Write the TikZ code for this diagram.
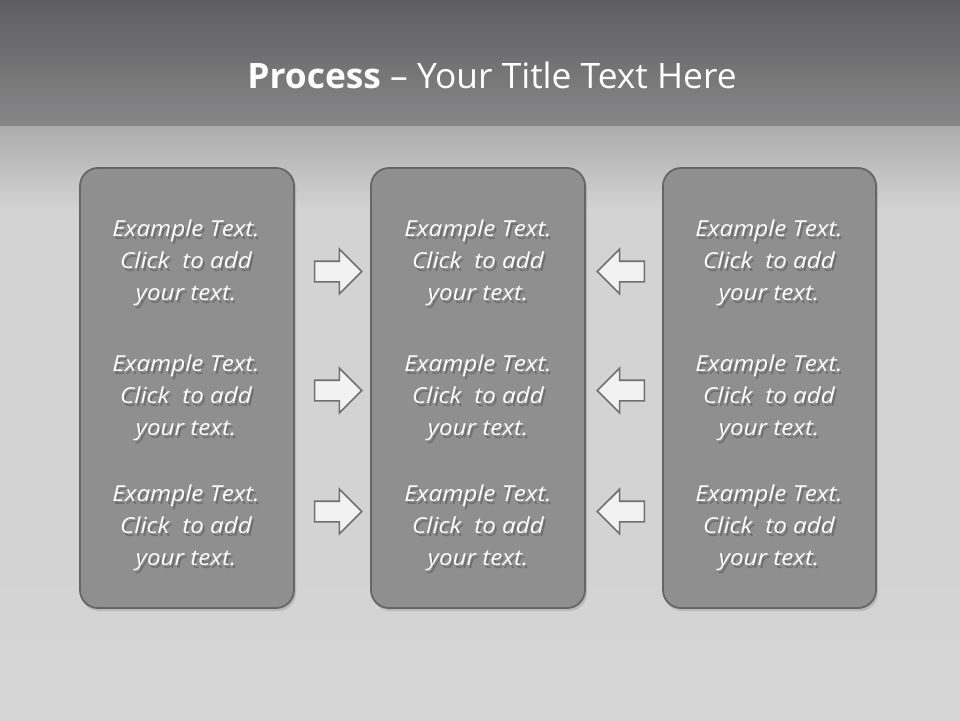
\documentclass[tikz,border=0pt]{standalone}
\usepackage{fontspec}
\setmainfont{Open Sans}
\newfontfamily\titlefont[FakeStretch=1.01]{Open Sans}
\newfontfamily\bodyfont[FakeStretch=1.1]{Open Sans}
\usetikzlibrary{shapes.arrows}
\definecolor{hdtop}{HTML}{5E5E60}
\definecolor{hdbot}{HTML}{878788}
\definecolor{bgtop}{HTML}{ABABAC}
\definecolor{bgmid}{HTML}{D3D3D4}
\definecolor{bgbot}{HTML}{D6D6D7}
\definecolor{boxfill}{HTML}{8F8F90}
\definecolor{boxline}{HTML}{666667}
\definecolor{arrfill}{HTML}{F2F2F2}
\definecolor{arrline}{HTML}{707071}
\definecolor{shadowc}{HTML}{333333}
\tikzset{
  panel/.style={draw=boxline, line width=1.8pt, fill=boxfill, rounded corners=18pt},
  btext/.style={text=white, align=center, font=\bodyfont\fontsize{22}{32}\selectfont\itshape, inner sep=0pt},
  bshadow/.style={text=shadowc, text opacity=0.35, align=center, font=\bodyfont\fontsize{22}{32}\selectfont\itshape, inner sep=0pt},
  blockarrow/.style={single arrow, draw=arrline, line width=1.6pt, fill=arrfill,
    minimum height=47pt, inner xsep=0pt, inner ysep=9.5pt, text height=0pt, text depth=0pt,
    single arrow head extend=12pt, single arrow head indent=0pt, single arrow tip angle=90}
}
\begin{document}
\begin{tikzpicture}[x=1pt,y=-1pt]
\useasboundingbox (0,0) rectangle (960,720);
% background
\shade[top color=bgtop, bottom color=bgmid] (0,124) rectangle (960,210);
\fill[bgmid] (0,210) rectangle (960,560);
\shade[top color=bgmid, bottom color=bgbot] (0,560) rectangle (960,720);
\shade[top color=hdtop, bottom color=hdbot] (0,0) rectangle (960,125);
% title
\node[text=white, font=\titlefont\fontsize{35}{40}\selectfont, inner sep=0pt] (title) at (492,75)
  {\textbf{Process} \textendash{} Your Title Text Here};
% panel shadows
\fill[black, opacity=0.12, rounded corners=18pt] (81,170) rectangle (296,611);
\fill[black, opacity=0.12, rounded corners=18pt] (372,170) rectangle (587,611);
\fill[black, opacity=0.12, rounded corners=18pt] (664,170) rectangle (878,611);
% panels
\node[panel, minimum width=214pt, minimum height=440pt] (p1) at (187,388) {};
\node[panel, minimum width=214pt, minimum height=440pt] (p2) at (478,388) {};
\node[panel, minimum width=213pt, minimum height=440pt] (p3) at (769.5,388) {};
% texts
\foreach \cx/\col in {186/a,478/b,769/c}{
  \foreach \cy/\row in {263/1,398/2,528/3}{
    \node[bshadow] (s\col\row) at (\cx+2,\cy+3) {Example Text.\\Click\hspace{0.3em} to add\\your text.};
    \node[btext] (t\col\row) at (\cx,\cy) {Example Text.\\Click\hspace{0.3em} to add\\your text.};
  }
}
% arrows
\foreach \cy/\row in {271.5/1,390.5/2,511.5/3}{
  \node[blockarrow, shape border rotate=0] (r\row) at (333,\cy) {};
  \node[blockarrow, shape border rotate=180] (l\row) at (626,\cy) {};
}
\end{tikzpicture}
\end{document}
